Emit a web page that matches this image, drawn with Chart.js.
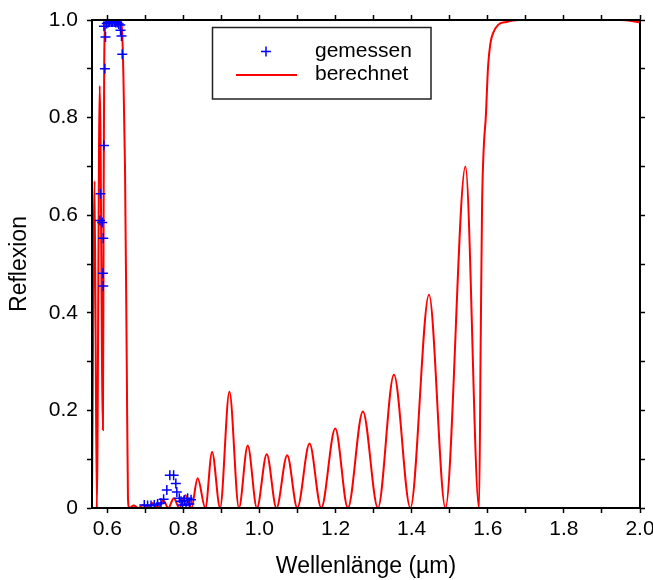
<!DOCTYPE html>
<html lang="de">
<head>
  <meta charset="UTF-8" />
  <title>Reflexion</title>
  <script src="https://cdn.jsdelivr.net/npm/chart.js"></script>
  <style>
    body { margin: 0; background: #fff; }
    canvas { display: block; }
  </style>
</head>
<body>
<canvas id="refl" width="653" height="580"></canvas>
<script>
  // berechnete Reflexion (Wellenlänge in µm)
  const calcX = [0.5600, 0.5668, 0.5726, 0.5803, 0.5887, 0.5905, 0.5920, 0.5940, 0.5970, 0.6000,
    0.6180, 0.6340, 0.6368, 0.6395, 0.6421, 0.6467, 0.6513, 0.6545, 0.6579, 0.6697,
    0.6816, 0.6947, 0.7066, 0.7197, 0.7329, 0.7474, 0.7605, 0.7750, 0.7895, 0.8053,
    0.8211, 0.8376, 0.8579, 0.8755, 0.8966, 0.9211, 0.9461, 0.9692, 0.9934, 1.0192,
    1.0447, 1.0729, 1.0995, 1.1316, 1.1624, 1.1992, 1.2324, 1.2718, 1.3113, 1.3534,
    1.3966, 1.4455, 1.4887, 1.5413, 1.5771, 1.5815, 1.5850, 1.5895, 1.5947, 1.6008,
    1.6071, 1.6139, 1.6271, 1.6492, 1.6797, 1.8000, 1.9500, 1.9850, 2.0000];
  const calcR = [0.02, 0.67, 0.0, 0.865, 0.16, 0.6, 0.9, 0.98, 0.995, 1.0,
    1.0, 0.998, 0.995, 0.97, 0.9, 0.7, 0.3, 0.02, 0.0, 0.005,
    0.0, 0.006, 0.0, 0.01, 0.0, 0.016, 0.0, 0.02, 0.0, 0.026,
    0.0, 0.061, 0.0, 0.115, 0.0, 0.238, 0.0, 0.128, 0.0, 0.11,
    0.0, 0.108, 0.0, 0.132, 0.0, 0.163, 0.0, 0.198, 0.0, 0.273,
    0.0, 0.437, 0.0, 0.70, 0.0, 0.35, 0.62, 0.74, 0.80, 0.905,
    0.953, 0.973, 0.99, 0.996, 1.0, 1.0, 1.0, 0.997, 0.995];

  // Messpunkte
  const measX = [0.5808, 0.5824, 0.5868, 0.5887, 0.5895, 0.5895, 0.5913, 0.5939, 0.5913, 0.5955,
    0.5987, 0.6026, 0.6066, 0.6105, 0.6145, 0.6184, 0.6224, 0.6263, 0.6303, 0.6342,
    0.6350, 0.6376, 0.6395,
    0.6974, 0.7061, 0.7150, 0.7237, 0.7324, 0.7413, 0.7482, 0.7566, 0.7645, 0.7745,
    0.7803, 0.7829, 0.7895, 0.7939, 0.7982, 0.8026, 0.8071, 0.8113, 0.8158, 0.8203];
  const measR = [0.589, 0.644, 0.585, 0.481, 0.553, 0.455, 0.743, 0.900, 0.987, 0.965,
    0.993, 0.995, 0.996, 0.996, 0.996, 0.996, 0.995, 0.995, 0.992, 0.990,
    0.979, 0.967, 0.930,
    0.006, 0.005, 0.005, 0.006, 0.008, 0.010, 0.018, 0.037, 0.067, 0.067,
    0.050, 0.033, 0.020, 0.014, 0.006, 0.016, 0.006, 0.020, 0.008, 0.017];

  const xMin = 0.56, xMax = 2.0;
  const yMin = 0, yMax = 1.0;
  const legendLabels = ["gemessen", "berechnet"];

  const FONT = "'Liberation Sans', Arial, sans-serif";

  const toPoints = (xs, ys) => xs.map((x, i) => ({ x: x, y: ys[i] }));

  // Beschriftung nur an jedem zweiten Tick (0.2-Schritte)
  function majorLabel(v, zeroAsInt) {
    const k = Math.round(v * 10);
    if (k % 2 !== 0) return "";
    if (k === 0 && zeroAsInt) return "0";
    return (k / 10).toFixed(1);
  }

  const tickGrid = {
    display: true,
    drawOnChartArea: false,
    drawTicks: true,
    tickLength: 5,
    tickColor: "#000",
    tickWidth: 1.5,
    color: "#000"
  };
  const frame = { display: true, color: "#000", width: 2, z: 1 };

  // feste Achsenbreiten, kein Platz für überstehende Randbeschriftung
  const fixSize = (w, h) => s => {
    if (w !== null) s.width = w;
    if (h !== null) s.height = h;
    s.paddingLeft = 0; s.paddingRight = 0;
    s.paddingTop = 0; s.paddingBottom = 0;
  };

  // Legende im Diagramm
  const boxLegend = {
    id: "boxLegend",
    afterDraw(chart) {
      const ctx = chart.ctx;
      ctx.save();
      ctx.strokeStyle = "#222";
      ctx.lineWidth = 1.5;
      ctx.strokeRect(212.5, 27.5, 218.5, 71.5);

      ctx.strokeStyle = "#0000ff";
      ctx.lineWidth = 1.5;
      ctx.beginPath();
      ctx.moveTo(261, 51.5); ctx.lineTo(271, 51.5);
      ctx.moveTo(266, 46.5); ctx.lineTo(266, 56.5);
      ctx.stroke();

      ctx.strokeStyle = "#ff0000";
      ctx.lineWidth = 1.8;
      ctx.beginPath();
      ctx.moveTo(236, 75); ctx.lineTo(297, 75);
      ctx.stroke();

      ctx.fillStyle = "#000";
      ctx.font = "21px " + FONT;
      ctx.textAlign = "left";
      ctx.textBaseline = "alphabetic";
      ctx.fillText(legendLabels[0], 315, 57);
      ctx.fillText(legendLabels[1], 315, 80);
      ctx.restore();
    }
  };

  new Chart(document.getElementById("refl"), {
    type: "scatter",
    data: {
      datasets: [
        {
          label: legendLabels[0],
          data: toPoints(measX, measR),
          pointStyle: "cross",
          pointRadius: 5,
          borderColor: "#0000ff",
          borderWidth: 1.5,
          showLine: false,
          order: 0
        },
        {
          label: legendLabels[1],
          data: toPoints(calcX, calcR),
          showLine: true,
          borderColor: "#ff0000",
          borderWidth: 2,
          pointRadius: 0,
          cubicInterpolationMode: "monotone",
          order: 1
        }
      ]
    },
    options: {
      responsive: false,
      animation: false,
      layout: { padding: 0 },
      plugins: {
        legend: { display: false },
        tooltip: { enabled: false }
      },
      scales: {
        x: {
          type: "linear",
          position: "bottom",
          min: xMin, max: xMax,
          grid: tickGrid,
          border: frame,
          ticks: {
            stepSize: 0.1,
            includeBounds: false,
            autoSkip: false,
            maxRotation: 0,
            padding: 4,
            color: "#000",
            font: { family: FONT, size: 21 },
            callback: v => majorLabel(v, false)
          },
          title: {
            display: true,
            text: "Wellenlänge (µm)",
            color: "#000",
            font: { family: FONT, size: 23 },
            padding: { top: 0, bottom: 0 }
          },
          afterFit: fixSize(null, 72)
        },
        xTop: {
          type: "linear",
          position: "top",
          min: xMin, max: xMax,
          grid: tickGrid,
          border: frame,
          ticks: { stepSize: 0.1, includeBounds: false, autoSkip: false, display: false },
          afterFit: fixSize(null, 20)
        },
        y: {
          type: "linear",
          position: "left",
          min: yMin, max: yMax,
          grid: tickGrid,
          border: frame,
          ticks: {
            stepSize: 0.1,
            autoSkip: false,
            padding: 9,
            color: "#000",
            font: { family: FONT, size: 21 },
            callback: v => majorLabel(v, true)
          },
          title: {
            display: true,
            text: "Reflexion",
            color: "#000",
            font: { family: FONT, size: 23 },
            padding: { top: 6, bottom: 0 }
          },
          afterFit: fixSize(92, null)
        },
        yRight: {
          type: "linear",
          position: "right",
          min: yMin, max: yMax,
          grid: tickGrid,
          border: frame,
          ticks: { stepSize: 0.1, autoSkip: false, display: false },
          afterFit: fixSize(13, null)
        }
      }
    },
    plugins: [boxLegend]
  });
</script>
</body>
</html>
